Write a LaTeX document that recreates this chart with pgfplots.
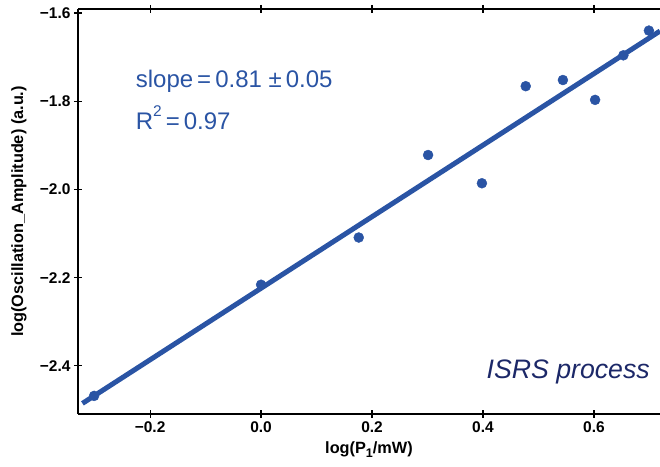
\documentclass[border=0pt]{standalone}
\usepackage{pgfplots}
\pgfplotsset{compat=1.18}
\usepackage{fontspec}
\setmainfont{Liberation Sans}
\definecolor{fitblue}{RGB}{42,84,164}
\definecolor{navy}{RGB}{28,40,104}
\begin{document}
\begin{tikzpicture}
\begin{axis}[
  scale only axis,
  width=582bp, height=405bp,
  xmin=-0.33, xmax=0.719,
  ymin=-2.509, ymax=-1.591,
  axis x line*=box, axis y line*=left,
  axis line style={line width=1.2bp},
  xtick={-0.2,0,0.2,0.4,0.6},
  xticklabels={−0.2,0.0,0.2,0.4,0.6},
  ytick={-2.4,-2.2,-2.0,-1.8,-1.6},
  yticklabels={−2.4,−2.2,−2.0,−1.8,−1.6},
  xticklabel pos=lower,
  tick align=center,
  major tick length=8bp,
  tick style={line width=1.2bp, black},
  ticklabel style={font=\fontsize{15.5bp}{18bp}\selectfont\bfseries},
  xlabel={\textbf{log(P\raisebox{-0.25em}{\fontsize{12.5bp}{14bp}\selectfont 1}/mW)}},
  ylabel={\textbf{log(Oscillation\_Amplitude) (a.u.)}},
  label style={font=\fontsize{16.3bp}{18bp}\selectfont},
  xlabel style={at={(axis description cs:0.5,0)}, anchor=north, yshift=-24bp},
  ylabel style={at={(axis description cs:0,0.5)}, anchor=south, yshift=48bp},
  clip=true,
]
\addplot[fitblue, line width=5bp, no marks] coordinates {(-0.322,-2.485) (0.719,-1.641)};
\addplot[only marks, mark=*, mark size=5bp, fitblue, mark options={draw=none, fill=fitblue}] coordinates {
(-0.301,-2.468) (0.0,-2.216) (0.176,-2.109) (0.301,-1.922) (0.398,-1.986)
(0.477,-1.766) (0.544,-1.752) (0.602,-1.797) (0.653,-1.696) (0.699,-1.640)};
\node[anchor=base west, text=fitblue, font=\fontsize{24bp}{27bp}\selectfont, inner sep=0pt] at (axis cs:-0.226,-1.770) {slope\,=\,0.81 ±\,0.05};
\node[anchor=base west, text=fitblue, font=\fontsize{24bp}{27bp}\selectfont, inner sep=0pt] at (axis cs:-0.226,-1.865) {R\raisebox{0.55em}{\fontsize{15.5bp}{17bp}\selectfont 2}\,=\,0.97};
\node[anchor=base east, text=navy, font=\fontsize{26.7bp}{30bp}\selectfont\itshape, inner sep=0pt] at (axis cs:0.701,-2.428) {ISRS process};
\end{axis}
\pgfresetboundingbox
\path (current axis.south west) ++(-78bp,-53bp) (current axis.north east) ++(0bp,9bp);
\end{tikzpicture}
\end{document}
